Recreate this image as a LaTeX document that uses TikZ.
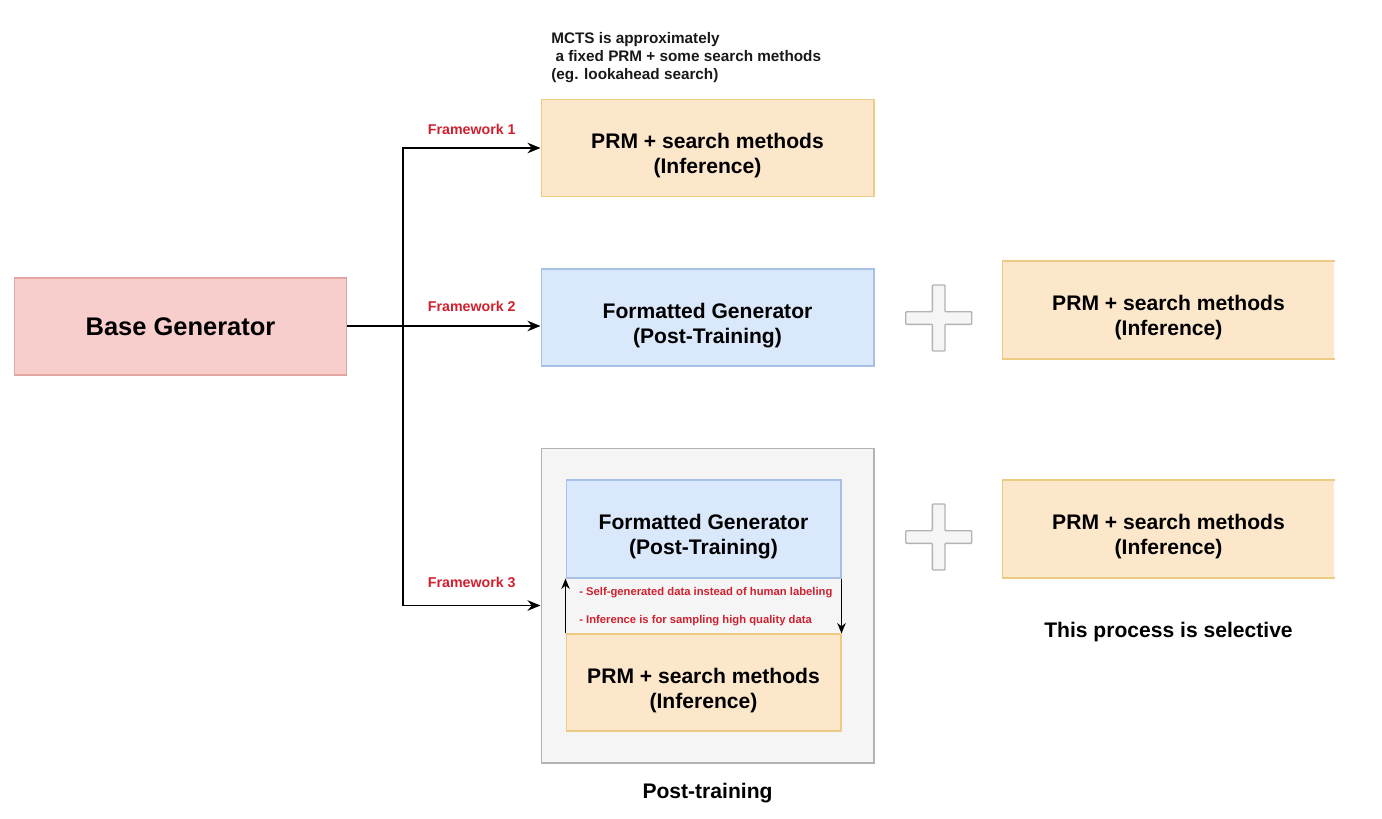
\documentclass[tikz,border=0pt]{standalone}
\usepackage{fontspec}
\setmainfont{Liberation Sans}
\usepackage{xcolor}
\usepackage{tikz}
\usetikzlibrary{arrows.meta,positioning,calc}
\definecolor{pinkfill}{HTML}{F8CECC}
\definecolor{pinkline}{HTML}{E3A5A2}
\definecolor{orangefill}{HTML}{FCE7CB}
\definecolor{orangeline}{HTML}{EDCB85}
\definecolor{bluefill}{HTML}{DAE8FC}
\definecolor{blueline}{HTML}{A6C0E6}
\definecolor{grayfill}{HTML}{F5F5F5}
\definecolor{grayline}{HTML}{B3B3B3}
\definecolor{labelred}{HTML}{D0202E}
% pushes a two-line box text down a little
\newcommand{\upstrut}{\rule{0pt}{17.8pt}}
\tikzset{
  genbox/.style={draw, line width=0.6pt, minimum width=6.66cm, minimum height=1.94cm, inner sep=0pt, align=center, font=\fontsize{12}{14.2}\selectfont\bfseries},
  prmbox/.style={genbox, fill=orangefill, draw=orangeline},
  fmtbox/.style={genbox, fill=bluefill, draw=blueline},
  openbox/.style={genbox, draw=none, fill=orangefill, minimum width=6.62cm},
  fwlabel/.style={font=\fontsize{8.1}{9}\selectfont\bfseries, text=labelred},
  notelabel/.style={font=\fontsize{6.4}{7.5}\selectfont\bfseries, text=labelred, anchor=west, inner sep=0pt},
  captext/.style={font=\fontsize{12}{14.2}\selectfont\bfseries},
  thinarrow/.style={-{Stealth[length=2.6mm,width=2.1mm]}, line width=1pt},
  looparrow/.style={-{Stealth[length=2.1mm,width=1.7mm]}, line width=0.7pt},
  plussign/.pic={
    \draw[grayline, fill=grayfill, line width=0.8pt, rounded corners=0.5pt]
      (-6.3,-33) -- (6.3,-33) -- (6.3,-6.3) -- (33,-6.3) -- (33,6.3) -- (6.3,6.3)
      -- (6.3,33) -- (-6.3,33) -- (-6.3,6.3) -- (-33,6.3) -- (-33,-6.3) -- (-6.3,-6.3) -- cycle;
  },
}

\begin{document}
\begin{tikzpicture}[x=0.02cm, y=-0.02cm]
  \useasboundingbox (0,0) rectangle (1382,818);

  % left: the base model
  \node[genbox, fill=pinkfill, draw=pinkline, font=\fontsize{14.5}{17}\selectfont\bfseries] (base) at (180.5,326.5) {Base Generator};

  % framework 1
  \node[anchor=west, inner sep=0pt, align=left, text=black!90, font=\fontsize{8.7}{10.2}\selectfont\bfseries] (mcts) at (551,58)
    {MCTS is approximately\\\ a fixed PRM + some search methods\\(eg. lookahead search)};
  \node[prmbox] (prm1) at (707.5,148) {\upstrut PRM + search methods\\(Inference)};

  % framework 2
  \node[fmtbox] (fmt2) at (707.5,317.5) {\upstrut Formatted Generator\\(Post-Training)};
  \pic at (938.7,318) {plussign};
  \node[openbox] (prm2r) at (1168.5,310) {\upstrut PRM + search methods\\(Inference)};
  \draw[orangeline, line width=0.6pt] (prm2r.north east) -- (prm2r.north west) -- (prm2r.south west) -- (prm2r.south east);

  % framework 3
  \node[draw=grayline, fill=grayfill, line width=0.6pt, minimum width=6.66cm, minimum height=6.3cm] (post3) at (707.5,605.5) {};
  \node[fmtbox, minimum width=5.5cm, minimum height=1.96cm] (fmt3) at (703.5,529) {\upstrut Formatted Generator\\(Post-Training)};
  \node[prmbox, minimum width=5.5cm] (prm3) at (703.5,682.5) {\upstrut PRM + search methods\\(Inference)};
  \node[notelabel] (note1) at (579,593) {- Self-generated data instead of human labeling};
  \node[notelabel] (note2) at (579,621) {- Inference is for sampling high quality data};
  \node[captext, below=0.28cm of post3] (postcap) {Post-training};
  \pic at (938.7,537) {plussign};
  \node[openbox] (prm3r) at (1168.5,529) {\upstrut PRM + search methods\\(Inference)};
  \draw[orangeline, line width=0.6pt] (prm3r.north east) -- (prm3r.north west) -- (prm3r.south west) -- (prm3r.south east);
  \node[captext, below=0.76cm of prm3r] (selcap) {This process is selective};

  % connectors
  \coordinate (split) at (403,326);
  \draw[line width=1pt] (base.east |- split) -- (split);
  \draw[thinarrow] (split) -- node[fwlabel, above=0.16cm] {Framework 2} (split -| fmt2.west);
  \draw[thinarrow] (split) |- node[fwlabel, pos=0.75, above=0.14cm] {Framework 1} (prm1.west);
  \draw[thinarrow] (split) |- node[fwlabel, pos=0.75, above=0.22cm] {Framework 3} (post3.west);
  \draw[looparrow] (prm3.north west) -- (fmt3.south west);
  \draw[looparrow] (fmt3.south east) -- (prm3.north east);
\end{tikzpicture}
\end{document}
